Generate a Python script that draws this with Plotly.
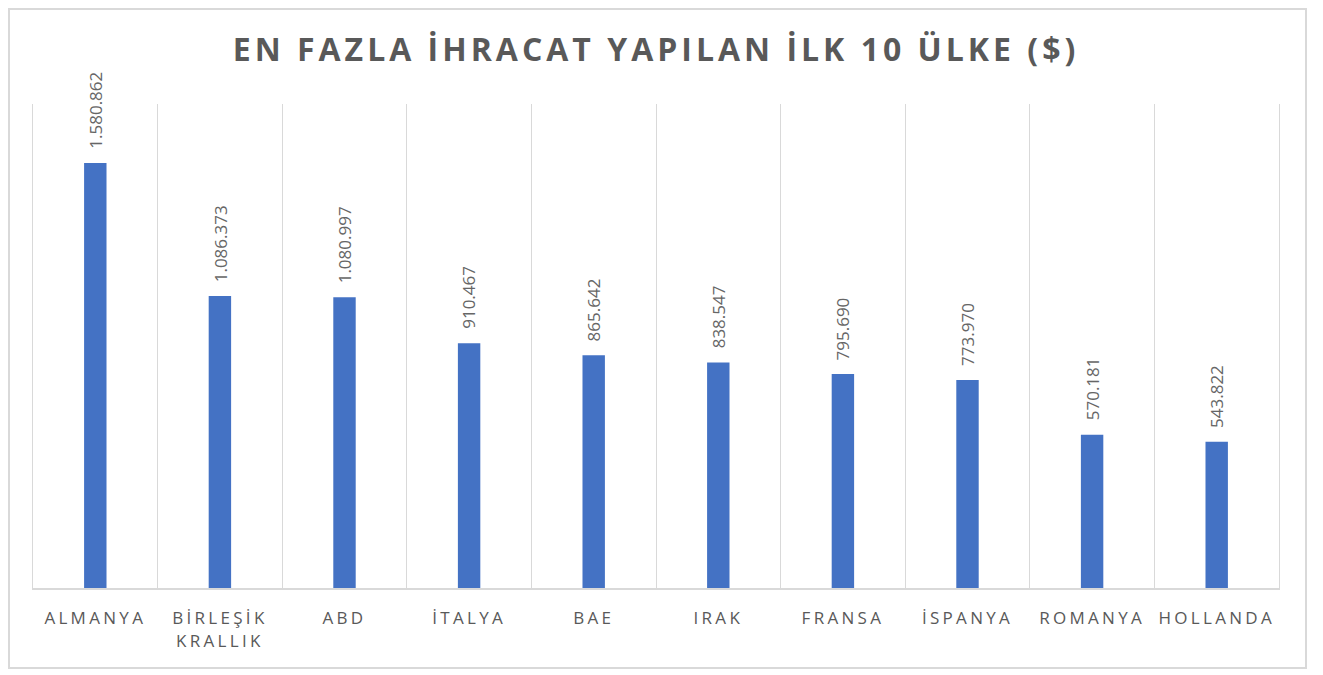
import plotly.graph_objects as go

countries = ["ALMANYA", "BİRLEŞİK<br>KRALLIK", "ABD", "İTALYA", "BAE", "IRAK",
             "FRANSA", "İSPANYA", "ROMANYA", "HOLLANDA"]
values = [1580862, 1086373, 1080997, 910467, 865642, 838547, 795690, 773970, 570181, 543822]
title_text = "EN FAZLA İHRACAT YAPILAN İLK 10 ÜLKE ($)"

# page is offset by the 8px body margin
W, H = 1323, 675
L, R, T, B = 25, 52, 96, 95
pw, ph = W - L - R, H - T - B

def sp(s, ls):
    return "<br>".join(f'<span style="letter-spacing:{ls}px">{p}</span>' for p in s.split("<br>"))

fig = go.Figure()
fig.add_trace(go.Bar(
    x=countries, y=values, width=0.18,
    marker=dict(color="#4472C4", line=dict(width=0)),
    hovertemplate="%{y:,}<extra></extra>",
))

for c, v in zip(countries, values):
    fig.add_annotation(
        x=c, y=v, xref="x", yref="y",
        text=f"{v:,}".replace(",", "."),
        textangle=-90, showarrow=False,
        xanchor="center", yanchor="bottom", yshift=12,
        font=dict(family="Open Sans", size=17, color="#666666"),
    )

def px2x(p):
    return (p - L) / pw
def px2y(p):
    return (H - B - p) / ph

fig.add_shape(type="rect", xref="paper", yref="paper",
              x0=px2x(1), x1=px2x(1298), y0=px2y(660), y1=px2y(1),
              line=dict(color="#D9D9D9", width=2), fillcolor="rgba(0,0,0,0)", layer="below")

fig.update_layout(
    width=W, height=H,
    margin=dict(l=L, r=R, t=T, b=B),
    paper_bgcolor="white", plot_bgcolor="white",
    separators=",.",
    showlegend=False,
    title=dict(text=f'<b>{sp(title_text, 4)}</b>', x=0.5, xref="paper", xanchor="center",
               y=1 - 42 / H, yanchor="middle",
               font=dict(family="Open Sans", size=32, color="#595959")),
    xaxis=dict(
        type="category",
        tickmode="array", tickvals=countries, ticktext=[sp(c, 3.3) for c in countries],
        tickson="boundaries", showgrid=True, gridcolor="#D9D9D9", gridwidth=1,
        showline=True, linecolor="#D9D9D9", linewidth=2,
        ticks="", ticklabelstandoff=14,
        tickfont=dict(family="Open Sans", size=17, color="#595959"),
        zeroline=False,
    ),
    yaxis=dict(range=[0, 1800000], showgrid=False, showticklabels=False,
               zeroline=False, showline=True, mirror=True, linecolor="#D9D9D9",
               linewidth=1, ticks=""),
)

fig.write_html("out.html")
